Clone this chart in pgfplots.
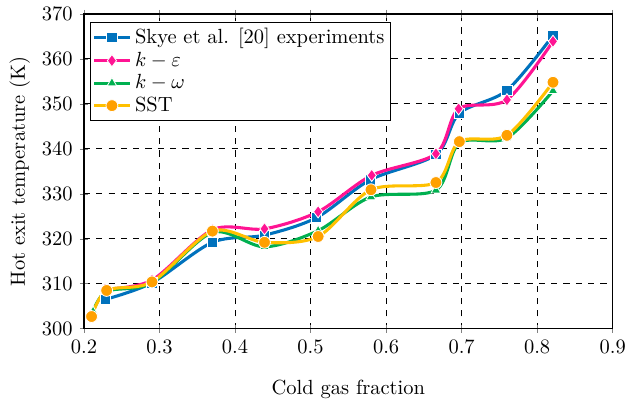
\documentclass[border=0pt]{standalone}
\usepackage{pgfplots}
\pgfplotsset{compat=1.18}
\definecolor{cblue}{RGB}{0,114,189}
\definecolor{cpink}{RGB}{255,20,147}
\definecolor{cgreen}{RGB}{0,176,80}
\definecolor{cyel}{RGB}{255,192,0}
\definecolor{corange}{RGB}{255,160,0}
\begin{document}
\begin{tikzpicture}
\begin{axis}[
  name=ax,
  scale only axis,
  width=258pt, height=153.6pt,
  xmin=0.2, xmax=0.9, ymin=300, ymax=370,
  xtick={0.2,0.3,...,0.9},
  ytick={300,310,...,370},
  xticklabel style={/pgf/number format/fixed,/pgf/number format/precision=1},
  tick align=center,
  xtick pos=both, ytick pos=left,
  major tick length=4pt,
  axis line style={line width=0.7pt},
  grid=major,
  major grid style={black, dashed, line width=0.5pt},
  xlabel={Cold gas fraction},
  ylabel={Hot exit temperature (K)},
  xlabel style={yshift=-6pt},
  ylabel style={yshift=-1pt},
  legend style={at={(axis description cs:0.012,0.975)}, anchor=north west, draw=black, line width=0.5pt, inner sep=1pt, row sep=-1.5pt},
  legend cell align=left,
  legend image code/.code={
    \draw[mark repeat=2,mark phase=2,#1] plot coordinates {(0cm,0cm) (0.3cm,0cm) (0.6cm,0cm)};
  },
]
\addplot[cblue, line width=1.5pt, smooth, mark=square*, mark size=2.5pt, mark options={fill=cblue, draw=white, line width=0.4pt}]
coordinates {(0.228,306.5) (0.290,310.2) (0.370,319.2) (0.439,320.8) (0.508,324.7) (0.579,333.1) (0.666,338.7) (0.697,347.9) (0.760,353.0) (0.821,365.2)};
\addlegendentry{Skye et al. [20] experiments}
\addplot[cpink, line width=1.5pt, smooth, mark=diamond*, mark size=3pt, mark options={fill=cpink, draw=white, line width=0.4pt}]
coordinates {(0.228,308.8) (0.290,310.8) (0.370,322.0) (0.439,322.2) (0.510,326.0) (0.581,334.1) (0.666,338.9) (0.696,348.9) (0.760,350.9) (0.821,363.9)};
\addlegendentry{$k-\varepsilon$}
\addplot[cgreen, line width=1.5pt, smooth, mark=triangle*, mark size=2.7pt, mark options={fill=cgreen, draw=white, line width=0.4pt}]
coordinates {(0.212,303.8) (0.230,308.3) (0.290,310.2) (0.370,321.4) (0.439,318.2) (0.510,321.8) (0.580,329.3) (0.666,330.8) (0.697,341.3) (0.760,342.4) (0.821,352.9)};
\addlegendentry{$k-\omega$}
\addplot[cyel, line width=1.5pt, smooth, mark=*, mark size=2.9pt, mark options={fill=corange, draw=white, line width=0.4pt}]
coordinates {(0.210,302.7) (0.230,308.5) (0.290,310.4) (0.370,321.7) (0.439,319.2) (0.510,320.5) (0.580,330.9) (0.666,332.5) (0.697,341.6) (0.760,343.0) (0.821,354.8)};
\addlegendentry{SST}
\end{axis}
\pgfresetboundingbox
\path[use as bounding box] ([xshift=-41pt,yshift=-37pt]ax.south west) rectangle ([xshift=7pt,yshift=6.8pt]ax.north east);
\end{tikzpicture}
\end{document}
